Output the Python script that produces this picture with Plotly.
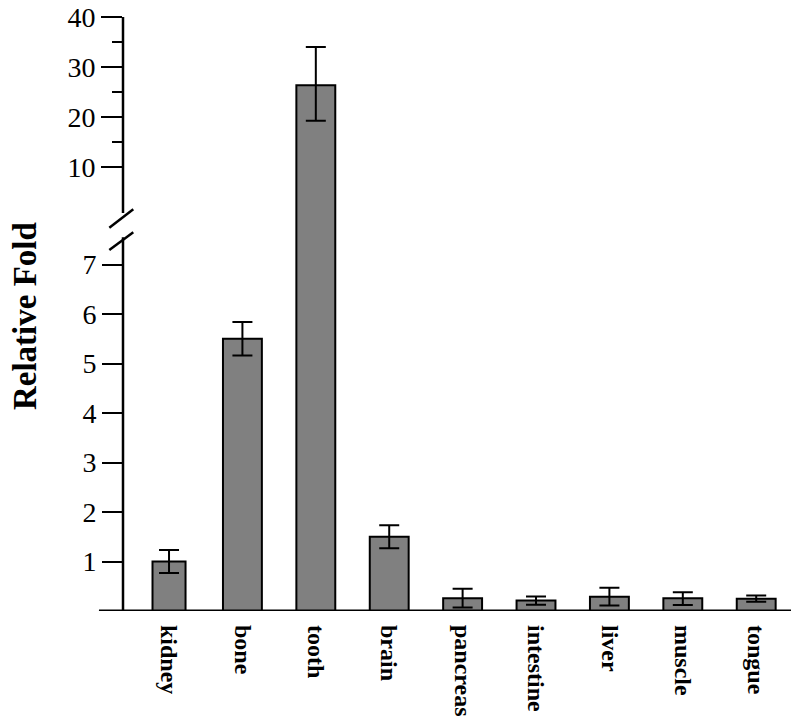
import plotly.graph_objects as go

# ---- data ----
categories = ["kidney", "bone", "tooth", "brain", "pancreas", "intestine", "liver", "muscle", "tongue"]
values = [1.0, 5.5, 26.4, 1.5, 0.26, 0.21, 0.29, 0.26, 0.25]
err_plus = [0.23, 0.34, 7.6, 0.23, 0.19, 0.085, 0.18, 0.12, 0.065]
err_minus = [0.23, 0.34, 7.1, 0.23, 0.19, 0.085, 0.18, 0.14, 0.065]
lower_ticks = [1, 2, 3, 4, 5, 6, 7]
upper_ticks = [10, 20, 30, 40]
upper_minor_ticks = [15, 25, 35]
broken_category = "tooth"

# ---- style ----
FONT = "Liberation Serif, Times New Roman, serif"
BAR_FILL = "#808080"
bar_widths = [0.45] + [0.53] * (len(categories) - 1)
bi = categories.index(broken_category)

fig = go.Figure()

# lower panel: all bars
fig.add_trace(go.Bar(
    x=categories, y=values,
    width=bar_widths,
    marker=dict(color=BAR_FILL, line=dict(color="black", width=2)),
    error_y=dict(type="data", symmetric=False, array=err_plus, arrayminus=err_minus,
                 color="black", thickness=2, width=10),
    xaxis="x", yaxis="y", showlegend=False,
))
# upper panel: only the bar that exceeds the break
fig.add_trace(go.Bar(
    x=[categories[bi]], y=[values[bi]],
    width=[bar_widths[bi]],
    marker=dict(color=BAR_FILL, line=dict(color="black", width=2)),
    error_y=dict(type="data", symmetric=False, array=[err_plus[bi]], arrayminus=[err_minus[bi]],
                 color="black", thickness=2, width=10),
    xaxis="x", yaxis="y2", showlegend=False,
))

tickfont = dict(family=FONT, size=28, color="black")

fig.update_layout(
    width=800, height=727,
    margin=dict(l=123, r=9, t=17, b=116),
    paper_bgcolor="white", plot_bgcolor="white",
    barmode="overlay",
    xaxis=dict(
        range=[-0.627, 8.474], showline=False, showgrid=False, zeroline=False,
        ticks="", tickangle=90, automargin=False, ticklabeloverflow="allow",
        tickfont=dict(family=FONT, size=24, color="black", weight="bold"),
        ticklabelstandoff=13,
        anchor="y",
    ),
    yaxis=dict(
        domain=[0, 0.6700], range=[0, 8.04], automargin=False, ticklabeloverflow="allow",
        showline=False, showgrid=False, zeroline=False,
        tickmode="array", tickvals=lower_ticks, ticktext=[str(v) for v in lower_ticks],
        ticks="outside", ticklen=20, tickwidth=2, tickcolor="black",
        tickfont=tickfont, anchor="x",
    ),
    yaxis2=dict(
        domain=[0.6650, 1], range=[0.3, 40], automargin=False, ticklabeloverflow="allow",
        showline=False, showgrid=False, zeroline=False,
        tickmode="array", tickvals=upper_ticks, ticktext=[str(v) for v in upper_ticks],
        ticks="outside", ticklen=21, tickwidth=2, tickcolor="black",
        minor=dict(tickmode="array", tickvals=upper_minor_ticks, ticks="outside",
                   ticklen=10, tickwidth=2, tickcolor="black"),
        tickfont=tickfont, anchor="x",
    ),
)

line = dict(color="black", width=2.5)
shapes = [
    # x axis baseline (extends slightly left of y axis)
    dict(type="line", xref="paper", yref="y", x0=-0.036, x1=1.0, y0=0, y1=0, line=dict(color="black", width=3)),
    # lower y axis segment
    dict(type="line", xref="paper", yref="y", x0=0, x1=0, y0=0, y1=7.55, line=line),
    # upper y axis segment
    dict(type="line", xref="paper", yref="y2", x0=0, x1=0, y0=0.9, y1=40, line=line),
    # break marks
    dict(type="line", xref="paper", yref="paper", x0=-0.0205, x1=0.0154, y0=0.6453, y1=0.6763, line=line),
    dict(type="line", xref="paper", yref="paper", x0=-0.0205, x1=0.0154, y0=0.6077, y1=0.6375, line=line),
]
fig.update_layout(shapes=shapes)

fig.add_annotation(
    text="Relative Fold", xref="paper", yref="paper",
    x=-0.1467, y=0.4966, xanchor="center", yanchor="middle",
    textangle=-90, showarrow=False,
    font=dict(family=FONT, size=33, color="black", weight="bold"),
)

fig.write_html(
    "out.html",
    config={"displayModeBar": False},
    post_script="document.body.style.margin='0';document.body.style.overflow='hidden';",
)
